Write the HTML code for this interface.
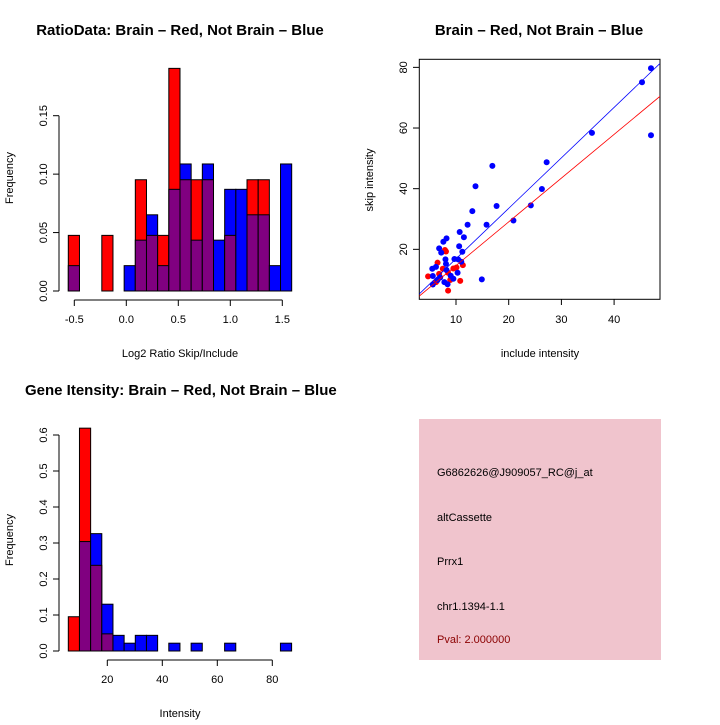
<!DOCTYPE html>
<html><head><meta charset="utf-8"><style>
body{margin:0;background:#fff}
svg text{font-family:"Liberation Sans",sans-serif;font-size:11px}
.t{font-weight:bold;font-size:15px}
</style></head><body>
<svg id="s" width="720" height="720" xmlns="http://www.w3.org/2000/svg">
<text class="t" x="180" y="35" text-anchor="middle">RatioData: Brain – Red, Not Brain – Blue</text>
<text class="t" x="539" y="35" text-anchor="middle">Brain – Red, Not Brain – Blue</text>
<text class="t" x="25" y="395">Gene Itensity: Brain – Red, Not Brain – Blue</text>
<text x="180" y="357" text-anchor="middle">Log2 Ratio Skip/Include</text>
<text x="540" y="357" text-anchor="middle">include intensity</text>
<text x="180" y="717" text-anchor="middle">Intensity</text>
<text transform="translate(13,178) rotate(-90)" text-anchor="middle">Frequency</text>
<text transform="translate(373,180) rotate(-90)" text-anchor="middle">skip intensity</text>
<text transform="translate(13,540) rotate(-90)" text-anchor="middle">Frequency</text>
<rect x="419" y="419" width="242" height="241" fill="#f0c4cd"/>
<text x="437" y="476" font-size="12.5">G6862626@J909057_RC@j_at</text>
<text x="437" y="521">altCassette</text>
<text x="437" y="565">Prrx1</text>
<text x="437" y="610">chr1.1394-1.1</text>
<text x="437" y="643" fill="#8b0000">Pval: 2.000000</text>
</svg>
<script>
const ratioRed=[0.0476,0,0,0.0476,0,0,0.0952,0.0476,0.0476,0.1905,0.0952,0.0952,0.0952,0,0.0476,0,0.0952,0.0952,0,0];
const ratioBlue=[0.0217,0,0,0,0,0.0217,0.0435,0.0652,0.0217,0.0870,0.1087,0.0435,0.1087,0.0435,0.0870,0.0870,0.0652,0.0652,0.0217,0.1087];
const ratioXTicks=["-0.5","0.0","0.5","1.0","1.5"];
const ratioYTicks=["0.00","0.05","0.10","0.15"];
const intRed=[0.0952,0.619,0.238,0.0476,0,0,0,0,0,0,0,0,0,0,0,0,0,0,0,0];
const intBlue=[0,0.304,0.326,0.130,0.0435,0.0217,0.0435,0.0435,0,0.0217,0,0.0217,0,0,0.0217,0,0,0,0,0.0217];
const intXTicks=["20","40","60","80"];
const intYTicks=["0.0","0.1","0.2","0.3","0.4","0.5","0.6"];
const blueX=[47.0,45.3,35.8,47.0,27.2,16.9,26.3,13.7,17.7,24.2,13.1,20.9,12.2,15.8,10.7,11.5,8.2,7.6,6.8,7.2,10.6,11.2,8.0,9.7,10.4,11.0,8.1,5.5,6.2,8.2,10.3,14.9,5.6,7.0,9.0,9.5,7.8,5.6,8.4,6.5];
const blueY=[79.7,75.1,58.4,57.6,48.7,47.5,39.9,40.8,34.3,34.5,32.6,29.5,28.1,28.1,25.7,24.0,23.6,22.5,20.3,18.9,21.0,19.2,16.7,16.8,16.7,15.9,15.2,13.6,14.2,13.2,12.3,10.1,11.2,10.7,11.3,10.3,9.2,8.4,8.5,9.9];
const redX=[4.7,6.5,7.9,8.1,7.5,9.5,10.1,11.3,10.8,8.5,6.8,8.9,8.5,6.2];
const redY=[11.1,15.6,19.8,19.3,13.6,13.7,14.0,14.8,9.6,6.4,11.9,9.9,12.3,9.2];
const scXTicks=[10,20,30,40];
const scYTicks=[20,40,60,80];
const blueFit=[0.24,1.664];
const redFit=[0.22,1.442];
const s=document.getElementById('s');
const NS="http://www.w3.org/2000/svg";
function mk(tag,at,name){const e=document.createElementNS(NS,tag);for(const k in at)e.setAttribute(k,at[k]);


s.appendChild(e);return e;}
function hist(red,blue,x0,bw,xs,y0,ys,pre){
 for(let i=0;i<red.length;i++){
  const l=xs(x0+i*bw),r=xs(x0+(i+1)*bw),w=r-l;
  const mn=Math.min(red[i],blue[i]),mx=Math.max(red[i],blue[i]);
  if(mx<=0)continue;
  const c=red[i]>=blue[i]?'#ff0000':'#0000ff';
  mk('rect',{x:l,y:ys(mx),width:w,height:ys(0)-ys(mx),fill:c,stroke:'#000','stroke-width':1},pre+'-bar-'+i);
  if(mn>0)mk('rect',{x:l,y:ys(mn),width:w,height:ys(0)-ys(mn),fill:'#800080',stroke:'#000','stroke-width':1},pre+'-overlap-'+i);
 }
}
function xaxis(vals,labels,xs,y,pre){
 mk('line',{x1:xs(vals[0]),x2:xs(vals[vals.length-1]),y1:y,y2:y,stroke:'#000'},pre+'-x-axis');
 vals.forEach((v,i)=>{mk('line',{x1:xs(v),x2:xs(v),y1:y,y2:y+6,stroke:'#000'},pre+'-x-tick');
  const t=mk('text',{x:xs(v),y:y+23,'text-anchor':'middle'},pre+'-x-label');t.textContent=labels[i];});
}
function yaxis(vals,labels,ys,x,pre){
 mk('line',{x1:x,x2:x,y1:ys(vals[0]),y2:ys(vals[vals.length-1]),stroke:'#000'},pre+'-y-axis');
 vals.forEach((v,i)=>{mk('line',{x1:x,x2:x-6,y1:ys(v),y2:ys(v),stroke:'#000'},pre+'-y-tick');
  const t=mk('text',{transform:`translate(${x-12},${ys(v)}) rotate(-90)`,'text-anchor':'middle'},pre+'-y-label');t.textContent=labels[i];});
}
{const xs=v=>126.3+v*104, ys=v=>291-v*(175.3/0.15);
 hist(ratioRed,ratioBlue,-0.5577,0.1074,xs,0,ys,'ratio');
 xaxis(ratioXTicks.map(Number),ratioXTicks,xs,300,'ratio');
 yaxis(ratioYTicks.map(Number),ratioYTicks,ys,59,'ratio');}
{const xs=v=>107.3+(v-20)*2.75, ys=v=>651-v*360;
 hist(intRed,intBlue,5.82,4.06,xs,0,ys,'intensity');
 xaxis(intXTicks.map(Number),intXTicks,xs,660,'intensity');
 yaxis(intYTicks.map(Number),intYTicks,ys,59,'intensity');}
{const xs=v=>403.3+v*5.27, ys=v=>310-v*3.033;
 mk('rect',{x:419.3,y:59.3,width:240.7,height:240,fill:'none',stroke:'#000'},'scatter-plot-box');
 const cp=mk('clipPath',{id:'cp'},'scatter-clip');
 const cr=document.createElementNS(NS,'rect');cr.setAttribute('x',419.3);cr.setAttribute('y',59.3);cr.setAttribute('width',240.7);cr.setAttribute('height',240);cp.appendChild(cr);
 redX.forEach((x,i)=>mk('circle',{cx:xs(x),cy:ys(redY[i]),r:3,fill:'#ff0000'},'brain-point'));
 blueX.forEach((x,i)=>mk('circle',{cx:xs(x),cy:ys(blueY[i]),r:3,fill:'#0000ff'},'not-brain-point'));
 [[blueFit,'#0000ff','not-brain-fit-line'],[redFit,'#ff0000','brain-fit-line']].forEach(([f,c,n])=>{
  mk('line',{x1:xs(0),y1:ys(f[0]),x2:xs(50),y2:ys(f[0]+f[1]*50),stroke:c,'stroke-width':0.8,'clip-path':'url(#cp)'},n);});
 scXTicks.forEach(v=>{mk('line',{x1:xs(v),x2:xs(v),y1:299.3,y2:305,stroke:'#000'},'scatter-x-tick');
  const t=mk('text',{x:xs(v),y:323,'text-anchor':'middle'},'scatter-x-label');t.textContent=v;});
 scYTicks.forEach(v=>{mk('line',{x1:419.3,x2:413,y1:ys(v),y2:ys(v),stroke:'#000'},'scatter-y-tick');
  const t=mk('text',{transform:`translate(407,${ys(v)}) rotate(-90)`,'text-anchor':'middle'},'scatter-y-label');t.textContent=v;});}
</script>
</body></html>
